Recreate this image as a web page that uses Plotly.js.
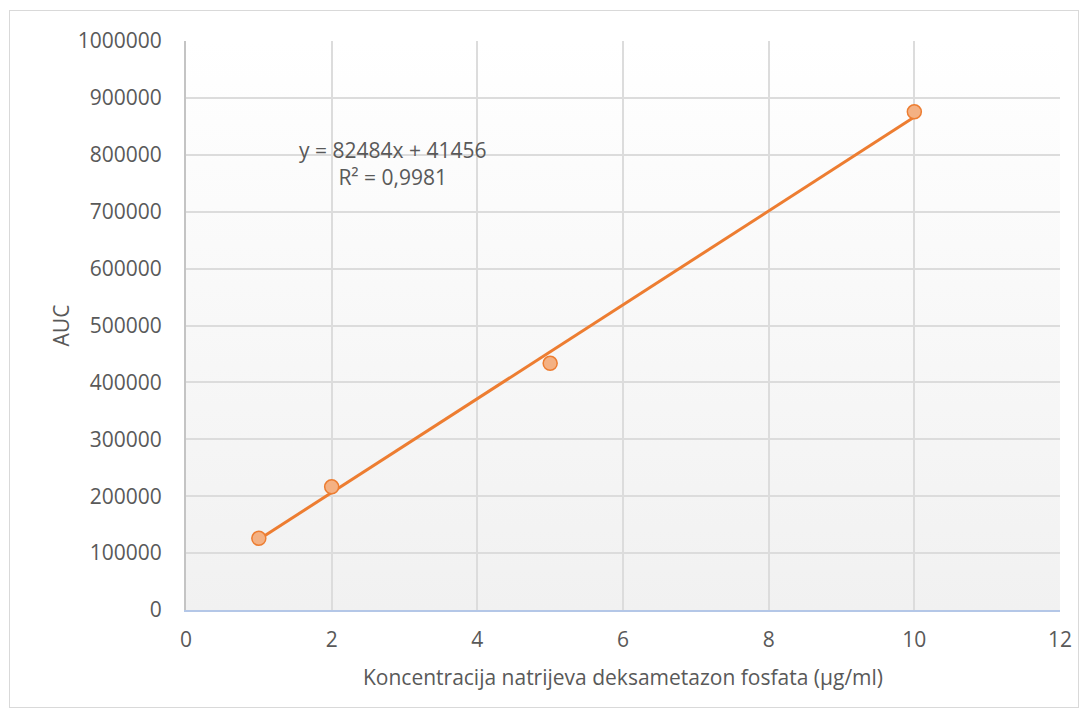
<!DOCTYPE html>
<html>
<head>
<meta charset="utf-8">
<script src="https://cdn.plot.ly/plotly-3.0.1.min.js"></script>
<style>
  html, body { margin: 0; padding: 0; background: #ffffff; }
  #chart { position: absolute; left: 0; top: 0; width: 1090px; height: 720px; }
  #frame { position: absolute; left: 9px; top: 10px; width: 1068px; height: 696px;
           border: 1px solid #d9d9d9; pointer-events: none; }
</style>
</head>
<body>
<div id="chart"></div>
<div id="frame"></div>
<script>
// Data
const concentration = [1, 2, 5, 10];
const auc = [126000, 216500, 433500, 875500];
// Linear trendline as printed on the chart
const slope = 82484;
const intercept = 41456;
const trendX = [1, 10];
const equationText = 'y = 82484x + 41456<br>R² = 0,9981';
const xTicks = [0, 2, 4, 6, 8, 10, 12];
const yTicks = [0, 100000, 200000, 300000, 400000, 500000, 600000, 700000, 800000, 900000, 1000000];

const trendY = trendX.map(x => slope * x + intercept);

const fontFamily = '"Open Sans", Lato, sans-serif';
const textColor = '#595959';
const fs = 21;

const gradientSvg = '<svg xmlns="http://www.w3.org/2000/svg" width="10" height="100" preserveAspectRatio="none">' +
  '<defs><linearGradient id="g" x1="0" y1="0" x2="0" y2="1">' +
  '<stop offset="0" stop-color="#ffffff"/><stop offset="1" stop-color="#f1f1f1"/></linearGradient></defs>' +
  '<rect width="10" height="100" fill="url(#g)"/></svg>';

const traces = [
  {
    x: trendX, y: trendY, type: 'scatter', mode: 'lines',
    line: { color: '#ed7d31', width: 3 }, hoverinfo: 'skip', showlegend: false
  },
  {
    x: concentration, y: auc, type: 'scatter', mode: 'markers',
    marker: { size: 14, color: '#f4b183', line: { color: '#ed7d31', width: 1.5 } },
    showlegend: false
  }
];

const layout = {
  width: 1090, height: 720,
  margin: { l: 186, r: 30, t: 41, b: 110 },
  paper_bgcolor: '#ffffff',
  plot_bgcolor: 'rgba(0,0,0,0)',
  font: { family: fontFamily, color: textColor, size: fs },
  images: [{
    source: 'data:image/svg+xml;charset=utf-8,' + encodeURIComponent(gradientSvg),
    xref: 'paper', yref: 'paper', x: 0, y: 1, sizex: 1, sizey: 1,
    sizing: 'stretch', layer: 'below', xanchor: 'left', yanchor: 'top'
  }],
  xaxis: {
    range: [0, 12], tickvals: xTicks, ticktext: xTicks.map(String),
    showgrid: true, gridcolor: '#dcdcdc', gridwidth: 2,
    zeroline: false, showline: true, linecolor: '#b4c7e7', linewidth: 2,
    ticks: 'outside', ticklen: 10, tickcolor: 'rgba(0,0,0,0)',
    tickfont: { size: fs, color: textColor }, automargin: false,
    title: { text: 'Koncentracija natrijeva deksametazon fosfata (µg/ml)', font: { size: fs, color: textColor }, standoff: 18 }
  },
  yaxis: {
    range: [0, 1000000], tickvals: yTicks, ticktext: yTicks.map(String),
    showgrid: true, gridcolor: '#dcdcdc', gridwidth: 2,
    zeroline: false, showline: true, linecolor: '#c4c4c4', linewidth: 2,
    ticks: 'outside', ticklen: 18, tickcolor: 'rgba(0,0,0,0)',
    tickfont: { size: fs, color: textColor }, automargin: false,
    title: { text: 'AUC', font: { size: fs, color: textColor }, standoff: 2 }
  },
  annotations: [{
    text: equationText, x: 2.83, y: 785000, xref: 'x', yref: 'y',
    showarrow: false, align: 'center', xanchor: 'center', yanchor: 'middle',
    font: { size: fs, color: textColor }
  }]
};

Plotly.newPlot('chart', traces, layout, { displayModeBar: false, staticPlot: true });
</script>
</body>
</html>
